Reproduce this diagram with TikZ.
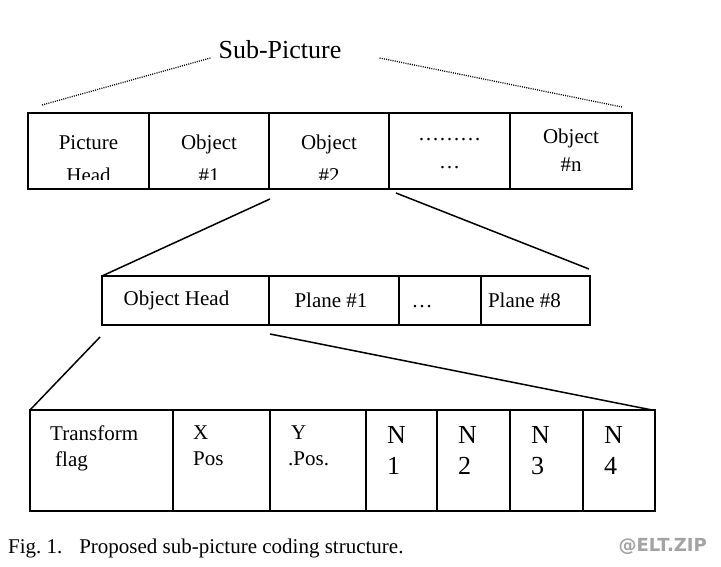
\documentclass[tikz,border=0pt]{standalone}
\usepackage{fontspec}
\setmainfont{Liberation Serif}
\newfontfamily\markfont{DejaVu Sans}
\usetikzlibrary{positioning,calc}
\definecolor{wmgray}{HTML}{A3A3A3}
\tikzset{
  cell/.style={draw, rectangle, line width=1.6pt, inner sep=0pt, outer sep=0pt},
  toprow/.style={cell, minimum height=76pt},
  midrow/.style={cell, minimum height=49pt},
  botrow/.style={cell, minimum height=101pt},
  txt/.style={font=\fontsize{21}{28}\selectfont, align=center, inner sep=0pt},
  cuttxt/.style={font=\fontsize{21}{33}\selectfont, align=center, inner sep=0pt},
  lefttxt/.style={font=\fontsize{21}{26}\selectfont, align=left, inner sep=0pt, anchor=north west},
  bigtxt/.style={font=\fontsize{26}{31}\selectfont, align=left, inner sep=0pt, anchor=north west},
  titletxt/.style={font=\fontsize{26}{30}\selectfont, inner sep=0pt},
  captiontxt/.style={font=\fontsize{21}{24}\selectfont, inner sep=0pt, anchor=west},
  wmark/.style={font=\markfont\bfseries\fontsize{18}{20}\selectfont, text=wmgray, inner sep=0pt, anchor=east},
  zoomline/.style={line width=1.5pt},
  dotline/.style={line width=1.3pt, dash pattern=on 1pt off 1.2pt}
}

\begin{document}
\begin{tikzpicture}[x=1pt, y=-1pt]
    \useasboundingbox (0,0) rectangle (721,567);

    % sub-picture row
    \node[toprow, minimum width=121pt, anchor=north west] (ph) at (28,113) {};
    \node[toprow, minimum width=120pt, right=0pt of ph] (ob1) {};
    \node[toprow, minimum width=120pt, right=0pt of ob1] (ob2) {};
    \node[toprow, minimum width=121pt, right=0pt of ob2] (obd) {};
    \node[toprow, minimum width=122pt, right=0pt of obd] (obn) {};

    \begin{scope}
        \clip (0,0) rectangle (721,179.5);
        \node[cuttxt] (tph) at ($(ph.center)+(0,8)$) {Picture\\Head};
        \node[cuttxt] (tob1) at ($(ob1.center)+(0,8)$) {Object\\\#1};
        \node[cuttxt] (tob2) at ($(ob2.center)+(0,8)$) {Object\\\#2};
    \end{scope}
    \node[txt] (tobd) at ($(obd.center)+(0,3)$) {\dots\dots\dots\\\dots};
    \node[txt] (tobn) at ($(obn.center)+(0,-1)$) {Object\\\#n};

    \node[titletxt] (sp) at (280,50) {Sub-Picture};
    \coordinate (dl0) at ($(sp.west)+(-8,8)$);
    \coordinate (dl1) at ($(ph.north west)+(14,-8)$);
    \coordinate (dr0) at ($(sp.east)+(38,8)$);
    \coordinate (dr1) at ($(obn.north east)+(-10,-6)$);
    \draw[dotline] (dl0) -- (dl1);
    \draw[dotline] (dr0) -- (dr1);

    % object row
    \node[midrow, minimum width=167pt, anchor=north west] (oh) at (102,276) {};
    \node[midrow, minimum width=130pt, right=0pt of oh] (pl1) {};
    \node[midrow, minimum width=82pt, right=0pt of pl1] (pld) {};
    \node[midrow, minimum width=109pt, right=0pt of pld] (pl8) {};

    \node[txt] (toh) at ($(oh.center)+(-9,0)$) {Object Head};
    \node[txt] (tpl1) at ($(pl1.center)+(-3,0)$) {Plane \#1};
    \node[txt] (tpld) at ($(pld.center)+(-18,6)$) {\dots};
    \node[txt] (tpl8) at ($(pl8.center)+(-11,0)$) {Plane \#8};

    \coordinate (za) at ($(ob2.south west)+(1,10)$);
    \coordinate (zb) at ($(obd.south west)+(7,4)$);
    \coordinate (zc) at ($(pl8.north east)+(-1,-7)$);
    \draw[zoomline] (za) -- (oh.north west);
    \draw[zoomline] (zb) -- (zc);

    % plane row
    \node[botrow, minimum width=143pt, anchor=north west] (tf) at (30,410) {};
    \node[botrow, minimum width=97pt, right=0pt of tf] (xp) {};
    \node[botrow, minimum width=96pt, right=0pt of xp] (yp) {};
    \node[botrow, minimum width=71pt, right=0pt of yp] (n1) {};
    \node[botrow, minimum width=73pt, right=0pt of n1] (n2) {};
    \node[botrow, minimum width=73pt, right=0pt of n2] (n3) {};
    \node[botrow, minimum width=72pt, right=0pt of n3] (n4) {};

    \node[lefttxt] (ttf) at ($(tf.north west)+(20,16)$) {Transform\\\hspace{5pt}flag};
    \node[lefttxt] (txp) at ($(xp.north west)+(20,16)$) {X\\Pos};
    \node[lefttxt] (typ) at ($(yp.north west)+(18,16)$) {\hspace{3pt}Y\\.Pos.};
    \foreach \n/\k in {n1/1,n2/2,n3/3,n4/4}
        \node[bigtxt] (t\n) at ($(\n.north west)+(21,16)$) {N\\\k};

    \coordinate (zd) at ($(oh.south west)+(-2,12)$);
    \coordinate (ze) at ($(oh.south east)+(1,9)$);
    \draw[zoomline] (zd) -- (tf.north west);
    \draw[zoomline] (ze) -- ($(n4.north east)+(-3,0)$);

    % caption
    \node[captiontxt] (cap) at (8,548) {Fig.~1.\hspace{0.8em}Proposed sub-picture coding structure.};
    \node[wmark] (wm) at (707,547) {@ELT.ZIP};
\end{tikzpicture}
\end{document}
